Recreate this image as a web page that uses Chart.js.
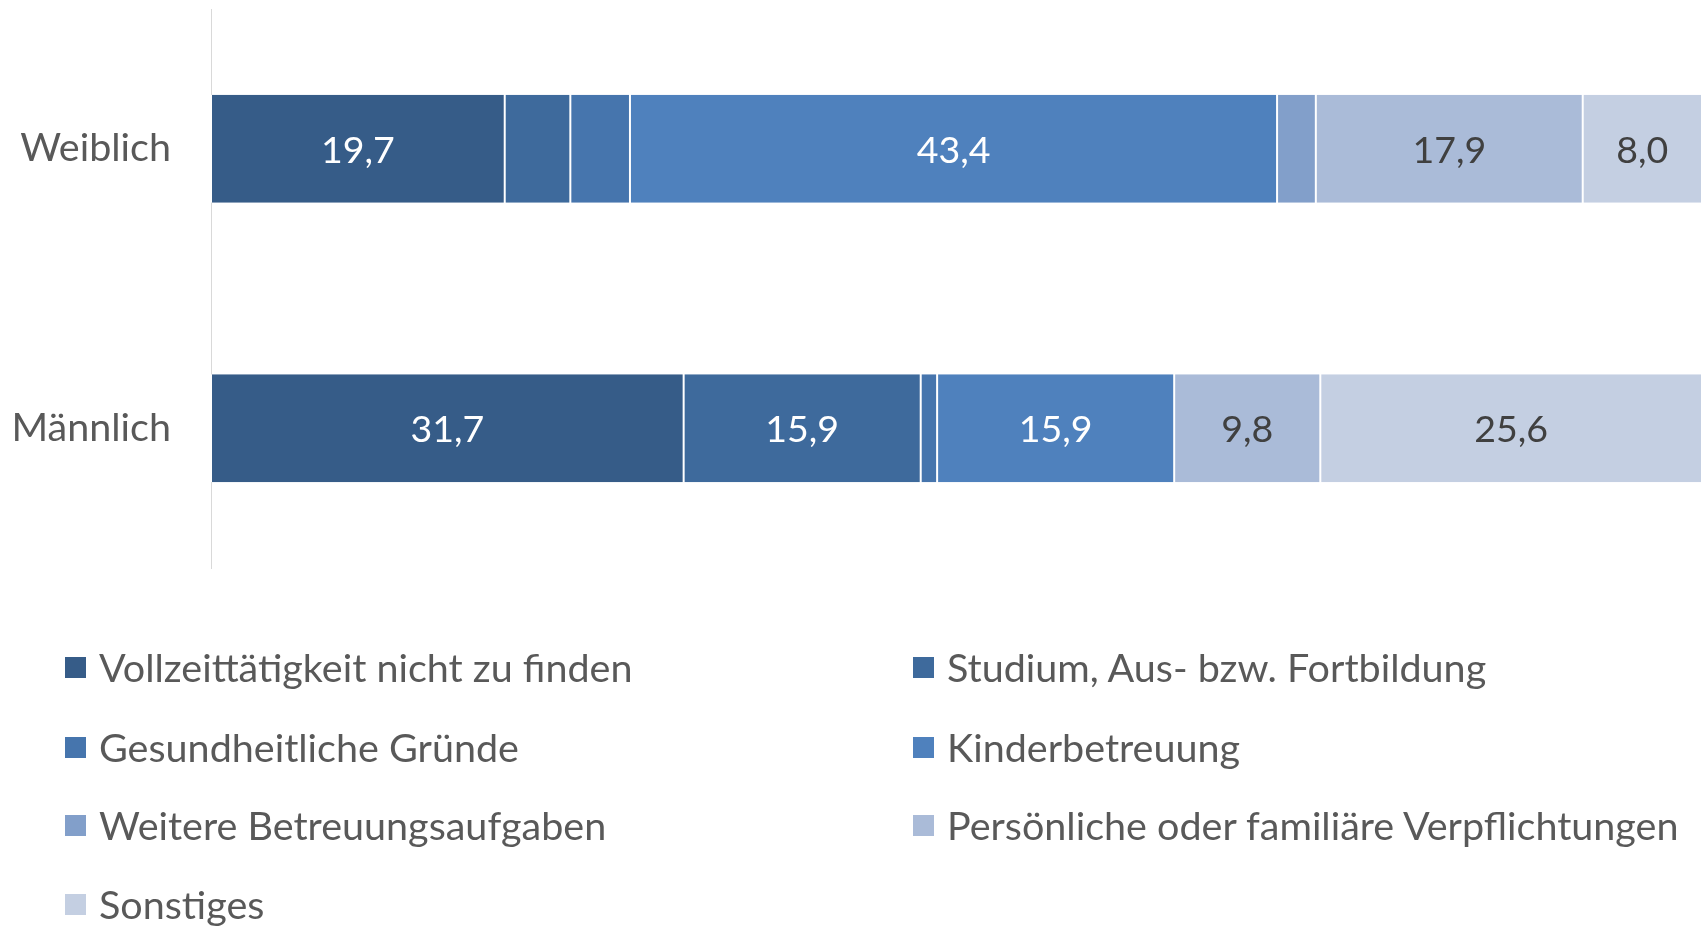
<!DOCTYPE html>
<html>
<head>
<meta charset="utf-8">
<script src="https://cdn.jsdelivr.net/npm/chart.js@4/dist/chart.umd.min.js"></script>
<style>
  html, body { margin:0; padding:0; background:#fff; }
  body { width:1707px; height:927px; position:relative; overflow:hidden; font-family: Lato, "Open Sans", sans-serif; }
  #wrap { position:absolute; left:0; top:0; width:1707px; height:600px; }
  #legend { position:absolute; left:0; top:0; width:1707px; height:927px; pointer-events:none; }
  .item { position:absolute; display:flex; align-items:center; height:44px; font-size:39.5px; color:#595959; white-space:nowrap; }
  .box { width:21px; height:21px; margin-right:13px; flex:none; }
</style>
</head>
<body>
<div id="wrap"><canvas id="c"></canvas></div>
<div id="legend"></div>
<script>
const categories = ["Weiblich", "Männlich"];
const seriesNames = [
  "Vollzeittätigkeit nicht zu finden",
  "Studium, Aus- bzw. Fortbildung",
  "Gesundheitliche Gründe",
  "Kinderbetreuung",
  "Weitere Betreuungsaufgaben",
  "Persönliche oder familiäre Verpflichtungen",
  "Sonstiges"
];
const vollzeit      = [19.7, 31.7];
const studium       = [4.4, 15.9];
const gesundheit    = [4.0, 1.1];
const kinder        = [43.4, 15.9];
const weitere       = [2.6, 0];
const persoenlich   = [17.9, 9.8];
const sonstiges     = [8.0, 25.6];
const seriesValues = [vollzeit, studium, gesundheit, kinder, weitere, persoenlich, sonstiges];
const colors = ["#365c88", "#3e6a9c", "#4675ad", "#4f81bd", "#829fca", "#aabbd8", "#c4cfe2"];
const labelColors = ["#ffffff", "#ffffff", "#ffffff", "#ffffff", "#404040", "#404040", "#404040"];
const labelMin = 5;

const FONT = "Lato, 'Open Sans', sans-serif";

const labelPlugin = {
  id: "segLabels",
  afterDatasetsDraw(chart) {
    const ctx = chart.ctx;
    ctx.save();
    ctx.font = "37.5px " + FONT;
    ctx.textAlign = "center";
    ctx.textBaseline = "middle";
    chart.data.datasets.forEach((ds, di) => {
      const meta = chart.getDatasetMeta(di);
      meta.data.forEach((bar, i) => {
        const v = ds.data[i];
        if (v < labelMin) return;
        const p = bar.getProps(["x", "y", "base"], true);
        ctx.fillStyle = labelColors[di];
        ctx.fillText(v.toFixed(1).replace(".", ","), (p.x + p.base) / 2, p.y + 2);
      });
    });
    ctx.restore();
  }
};

new Chart(document.getElementById("c"), {
  type: "bar",
  data: {
    labels: categories,
    datasets: seriesNames.map((n, i) => ({
      label: n,
      data: seriesValues[i],
      backgroundColor: colors[i],
      borderColor: "#ffffff",
      borderWidth: { left: 1, right: 1, top: 0, bottom: 0 },
      borderSkipped: false,
      barPercentage: 0.386,
      categoryPercentage: 1.0
    }))
  },
  options: {
    indexAxis: "y",
    responsive: true,
    maintainAspectRatio: false,
    animation: false,
    layout: { padding: { top: 9, bottom: 32, right: 5, left: 0 } },
    plugins: { legend: { display: false }, tooltip: { enabled: false } },
    scales: {
      x: { display: false, stacked: true, min: 0, max: 100 },
      y: {
        stacked: true,
        grid: { display: false, drawTicks: false },
        border: { display: true, color: "#d9d9d9", width: 1 },
        ticks: { color: "#595959", font: { family: FONT, size: 39.5 }, padding: 40 },
        afterFit(scale) { scale.width = 211; scale.paddingTop = 0; scale.paddingBottom = 0; }
      }
    }
  },
  plugins: [labelPlugin]
});

// legend (2-column grid, row-major)
const legend = document.getElementById("legend");
const colX = [65, 913];
const rowY = [666, 746, 824, 903];
seriesNames.forEach((n, i) => {
  const el = document.createElement("div");
  el.className = "item";
  el.style.left = colX[i % 2] + "px";
  el.style.top = (rowY[Math.floor(i / 2)] - 22) + "px";
  const b = document.createElement("span");
  b.className = "box";
  b.style.background = colors[i];
  b.style.marginTop = "2px";
  const t = document.createElement("span");
  t.textContent = n;
  el.appendChild(b); el.appendChild(t);
  legend.appendChild(el);
});
</script>
</body>
</html>
